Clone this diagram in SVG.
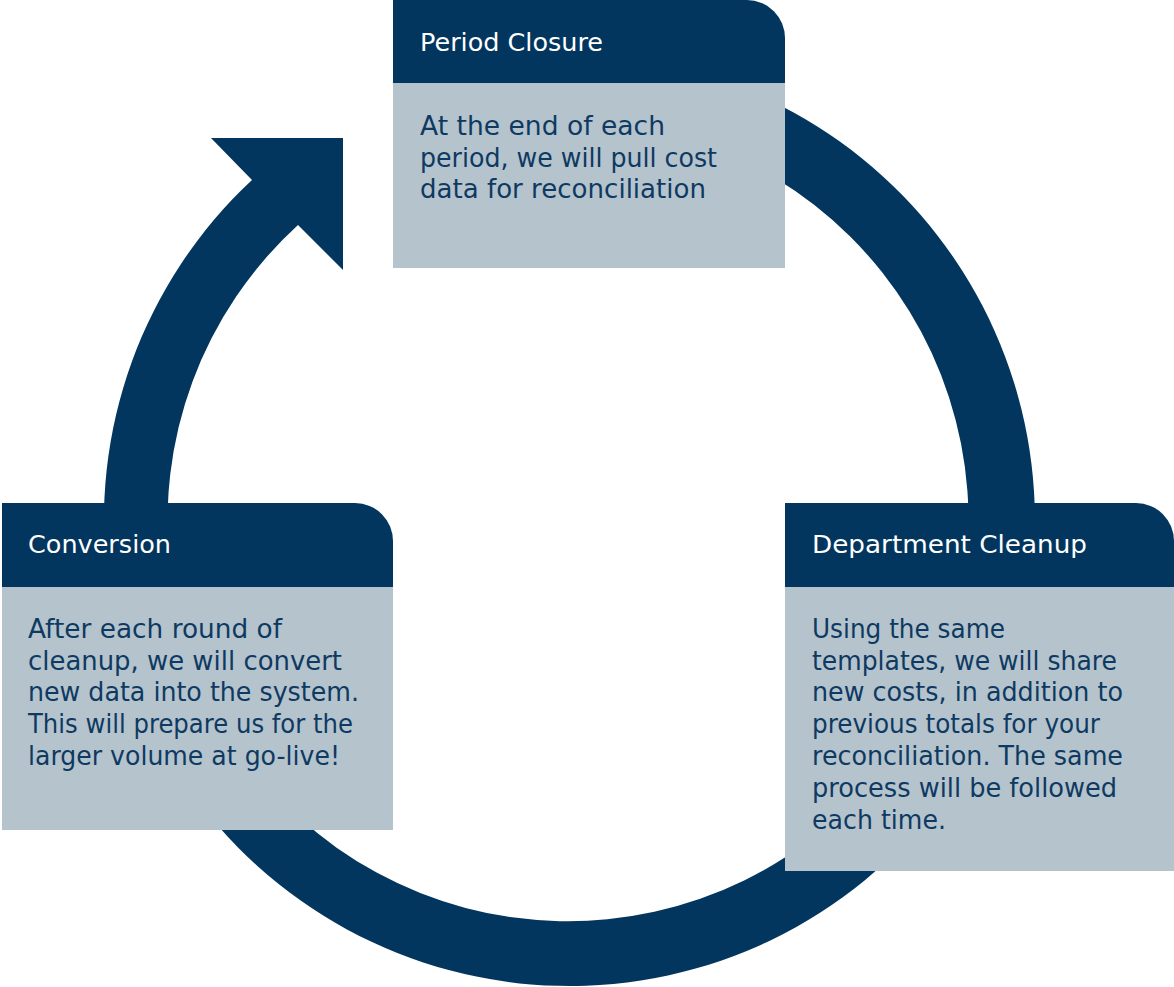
<svg xmlns="http://www.w3.org/2000/svg" width="1174" height="987" viewBox="0 0 1174 987">
  <style>
    .navy { fill: #02365E; }
    .body { fill: #B5C3CD; }
    .title { font-family: "DejaVu Sans", "Liberation Sans", sans-serif; font-size: 25px; fill: #FFFFFF; }
    .text { font-family: "DejaVu Sans", "Liberation Sans", sans-serif; font-size: 26px; fill: #0E3A62; }
  </style>
  <rect width="1174" height="987" fill="#FFFFFF"/>

  <!-- cycle ring with arrowhead (centre 572.5,520; radii 465.5 / 400.5) -->
  <g id="connectors">
    <path class="navy" d="M 500 60.2 A 465.5 465.5 0 1 1 252 180 L 211 138 L 343 138 L 343 270 L 298 225 A 400.5 400.5 0 1 0 500 126.1 Z"/>
  </g>

  <g id="period-closure">
    <path class="navy" d="M 393 0 H 747 A 38 38 0 0 1 785 38 V 83 H 393 Z"/>
    <rect class="body" x="393" y="83" width="392" height="185"/>
    <text class="title" x="420" y="51" textLength="183" lengthAdjust="spacingAndGlyphs">Period Closure</text>
    <text class="text" x="420" y="135" textLength="245" lengthAdjust="spacingAndGlyphs">At the end of each</text>
    <text class="text" x="420" y="167" textLength="297" lengthAdjust="spacingAndGlyphs">period, we will pull cost</text>
    <text class="text" x="420" y="198" textLength="286" lengthAdjust="spacingAndGlyphs">data for reconciliation</text>
  </g>

  <g id="conversion">
    <path class="navy" d="M 2 503 H 355 A 38 38 0 0 1 393 541 V 587 H 2 Z"/>
    <rect class="body" x="2" y="587" width="391" height="243"/>
    <text class="title" x="28" y="553" textLength="143" lengthAdjust="spacingAndGlyphs">Conversion</text>
    <text class="text" x="28" y="638" textLength="254" lengthAdjust="spacingAndGlyphs">After each round of</text>
    <text class="text" x="28" y="670" textLength="314" lengthAdjust="spacingAndGlyphs">cleanup, we will convert</text>
    <text class="text" x="28" y="701" textLength="331" lengthAdjust="spacingAndGlyphs">new data into the system.</text>
    <text class="text" x="28" y="733" textLength="325" lengthAdjust="spacingAndGlyphs">This will prepare us for the</text>
    <text class="text" x="28" y="765" textLength="312" lengthAdjust="spacingAndGlyphs">larger volume at go-live!</text>
  </g>

  <g id="department-cleanup">
    <path class="navy" d="M 785 503 H 1136 A 38 38 0 0 1 1174 541 V 587 H 785 Z"/>
    <rect class="body" x="785" y="587" width="389" height="284"/>
    <text class="title" x="812" y="553" textLength="275" lengthAdjust="spacingAndGlyphs">Department Cleanup</text>
    <text class="text" x="812" y="638" textLength="193" lengthAdjust="spacingAndGlyphs">Using the same</text>
    <text class="text" x="812" y="670" textLength="305" lengthAdjust="spacingAndGlyphs">templates, we will share</text>
    <text class="text" x="812" y="701" textLength="311" lengthAdjust="spacingAndGlyphs">new costs, in addition to</text>
    <text class="text" x="812" y="733" textLength="288" lengthAdjust="spacingAndGlyphs">previous totals for your</text>
    <text class="text" x="812" y="765" textLength="311" lengthAdjust="spacingAndGlyphs">reconciliation. The same</text>
    <text class="text" x="812" y="797" textLength="305" lengthAdjust="spacingAndGlyphs">process will be followed</text>
    <text class="text" x="812" y="829" textLength="134" lengthAdjust="spacingAndGlyphs">each time.</text>
  </g>
</svg>
